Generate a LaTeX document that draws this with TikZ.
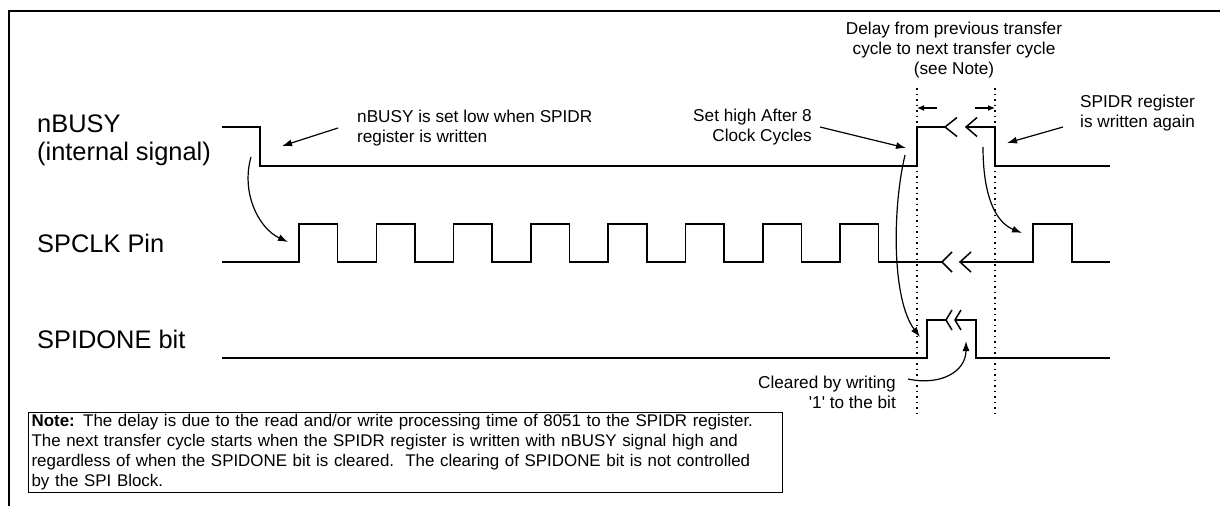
\documentclass[tikz,border=0pt]{standalone}
\usepackage{fontspec}
\setmainfont{Liberation Sans}
\usepackage{tikz}
\usetikzlibrary{arrows.meta,positioning}
\hyphenpenalty=10000

\newcommand{\wavebreak}[4]{\draw[wave] ({#1+#3},{#2-#4}) -- (#1,#2) -- ({#1+#3},{#2+#4});}

\begin{document}
\begin{tikzpicture}[
  x=1pt, y=-1pt,
  wave/.style={line width=1.5pt, line join=miter},
  arr/.style={-{Latex[length=10pt,width=7pt]}, line width=1.2pt},
  dimarr/.style={-{Latex[length=7pt,width=6pt]}, line width=1.2pt},
  guide/.style={line width=1.2pt, dash pattern=on 1.5pt off 4pt},
  lbl/.style={font=\fontsize{25.4}{28}\selectfont, align=left, inner sep=2pt},
  annot/.style={font=\fontsize{17.2}{20}\selectfont, inner sep=2pt}
]
\useasboundingbox (0,0) rectangle (1220,506);
\draw[line width=1.5pt] (9,506) -- (9,11) -- (1220,11);

\node[lbl, anchor=west] (nbusylbl) at (35,140) {nBUSY\\(internal signal)};
\node[lbl, anchor=west] (spclklbl) at (35,243) {SPCLK Pin};
\node[lbl, anchor=west] (spidonelbl) at (35,339) {SPIDONE bit};

\draw[wave] (222,127) -- (260,127) -- (260,166) -- (917,166) -- (917,127) -- (945,127);
\wavebreak{945}{127}{12}{9.5}
\wavebreak{966}{127}{11}{9.5}
\draw[wave] (966,127) -- (995,127) -- (995,166) -- (1110,166);

\draw[wave] (222,262) \foreach \k in {0,...,7}{ -- ({299+77.3*\k},262) -- ++(0,-38) -- ++(38.6,0) -- ++(0,38) } -- (942,262);
\wavebreak{942}{262}{10}{10}
\wavebreak{960}{262}{11}{10}
\draw[wave] (960,262) -- (1033,262) -- (1033,224) -- (1072,224) -- (1072,262) -- (1110,262);

\draw[wave] (222,358) -- (927,358) -- (927,320) -- (946,320);
\wavebreak{946}{320}{6}{10}
\wavebreak{955}{320}{6}{10}
\draw[wave] (955,320) -- (976,320) -- (976,358) -- (1110,358);

\draw[guide] (917,88) -- (917,413);
\draw[guide] (995,88) -- (995,413);
\coordinate (gapl) at (917,108);
\coordinate (gapr) at (995,108);
\draw[dimarr] ([xshift=20pt]gapl) -- (gapl);
\draw[dimarr] ([xshift=-20pt]gapr) -- (gapr);

\node[annot, anchor=west, align=left] (setlow) at (355,128) {nBUSY is set low when SPIDR\\register is written};
\node[annot, anchor=east, align=right] (sethigh) at (814,127) {Set high After 8\\Clock Cycles};
\node[annot, align=center] (delay) at (954,50) {Delay from previous transfer\\cycle to next transfer cycle\\(see Note)};
\node[annot, anchor=west, align=left] (again) at (1078,113) {SPIDR register\\is written again};
\node[annot, anchor=east, align=right] (cleared) at (898,392) {Cleared by writing\\\textquotesingle 1\textquotesingle\ to the bit};

\coordinate (fall) at (282,146);
\coordinate (rise) at (906,148);
\coordinate (fall2) at (1007,143);
\draw[arr] ([xshift=-17pt]setlow.west) -- (fall);
\draw[arr] ([xshift=6pt]sethigh.east) -- (rise);
\draw[arr] ([xshift=-15pt,yshift=-14pt]again.west) -- (fall2);

\coordinate (clkstart) at (288,242);
\coordinate (donerise) at (920,337);
\coordinate (clkagain) at (1022,233);
\coordinate (doneclr) at (966,341);
\draw[arr] (251,157) .. controls (241,192) and (258,228) .. (clkstart);
\draw[arr] (905,155) .. controls (892,210) and (892,300) .. (donerise);
\draw[arr] (983,147) .. controls (983,195) and (995,222) .. (clkagain);
\draw[arr] ([xshift=10pt,yshift=13pt]cleared.east) .. controls (940,386) and (966,372) .. (doneclr);

\node[draw, line width=1.2pt, anchor=north west, text width=748pt, align=left, inner xsep=3pt, inner ysep=2pt,
  font=\fontsize{16.9}{20}\selectfont] (note) at (28,412)
  {\textbf{Note:} The delay is due to the read and/or write processing time of 8051 to the SPIDR register.\\
   The next transfer cycle starts when the SPIDR register is written with nBUSY signal high and\\
   regardless of when the SPIDONE bit is cleared.\ \ The clearing of SPIDONE bit is not controlled\\
   by the SPI Block.};
\end{tikzpicture}
\end{document}
